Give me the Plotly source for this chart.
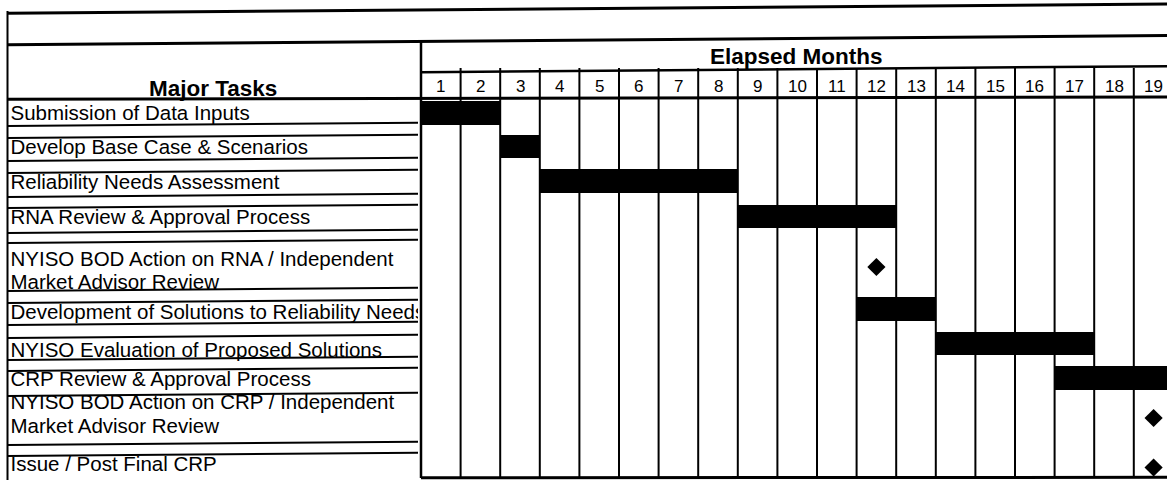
import plotly.graph_objects as go

# ---------------- data ----------------
tasks = [
    "Submission of Data Inputs",
    "Develop Base Case & Scenarios",
    "Reliability Needs Assessment",
    "RNA Review & Approval Process",
    "NYISO BOD Action on RNA / Independent<br>Market Advisor Review",
    "Development of Solutions to Reliability Needs",
    "NYISO Evaluation of Proposed Solutions",
    "CRP Review & Approval Process",
    "NYISO BOD Action on CRP / Independent<br>Market Advisor Review",
    "Issue / Post Final CRP",
]
start_month = [1, 3, 4, 9, None, 12, 14, 17, None, None]
end_month = [2, 3, 8, 12, None, 13, 17, 19, None, None]
milestone_month = [None, None, None, None, 12, None, None, None, 19, 19]
months = list(range(1, 20))
header_tasks = "Major Tasks"
header_months = "Elapsed Months"

# ---------------- layout (pixel geometry of the sheet) ----------------
W, H = 1167, 480
COL_LEFT = 421.0      # left edge of month 1
COL_W = 39.6          # width of one month column
LEFT_EDGE = 7.5
LABEL_CLIP = 418.0
SKEW = 0.008          # slight tilt of the scanned sheet
bar_y = [113, 146.5, 181, 216.5, 267, 309, 343.5, 378, 418, 467.5]
bar_h = 23.5
label_line_y = [[115], [148.5], [183.5], [218.5], [260.5, 283.5], [313.5],
                [352], [380.5], [404, 427.5], [466]]
box_lines = [123, 135, 158, 170, 194, 205, 230, 240, 288, 300, 322, 335,
             357, 368, 393, 442, 453]
FONT = "Liberation Sans, Arial, sans-serif"

x_lo = 0.5 - COL_LEFT / COL_W
x_hi = 0.5 + (W - COL_LEFT) / COL_W

fig = go.Figure()

# task bars
bx, bb, by = [], [], []
for s, e, y in zip(start_month, end_month, bar_y):
    if s is None:
        continue
    bb.append(s - 0.5)
    bx.append(e - s + 1)
    by.append(y)
fig.add_trace(go.Bar(
    x=bx, base=bb, y=by, orientation="h", width=bar_h,
    marker=dict(color="black", line=dict(width=0)),
    hoverinfo="skip",
))

# milestones
mx, my = [], []
for m, y in zip(milestone_month, bar_y):
    if m is None:
        continue
    mx.append(m)
    my.append(y)
fig.add_trace(go.Scatter(
    x=mx, y=my, mode="markers",
    marker=dict(symbol="diamond", size=14, color="black"),
    hoverinfo="skip", cliponaxis=True,
))

# task labels (clipped to the label column)
tx, ty, tt = [], [], []
for label, ys in zip(tasks, label_line_y):
    for line, y in zip(label.split("<br>"), ys):
        tx.append(10.5)
        ty.append(y)
        tt.append(line)
fig.add_trace(go.Scatter(
    x=tx, y=ty, text=tt, mode="text", textposition="middle right",
    textfont=dict(family=FONT, size=20.5, color="black"),
    xaxis="x2", yaxis="y", cliponaxis=True, hoverinfo="skip",
))

shapes = []
def tline(y_ref, x_ref, px0, px1, w=2):
    """Horizontal sheet line (slightly tilted like the scan), pixel x."""
    y0 = y_ref - SKEW * (px0 - x_ref)
    y1 = y_ref - SKEW * (px1 - x_ref)
    shapes.append(dict(type="line", xref="paper", yref="y", x0=px0 / W, x1=px1 / W,
                       y0=y0, y1=y1, line=dict(color="black", width=w),
                       layer="above"))

def vline(x, y0, y1, w=2, ref="paper"):
    shapes.append(dict(type="line", xref=ref, yref="y", x0=x, x1=x,
                       y0=y0, y1=y1, line=dict(color="black", width=w),
                       layer="above"))

# outer frame / headers
tline(11.7, 200, LEFT_EDGE, W, 3)
tline(41.7, 400, LEFT_EDGE, W, 3)
tline(70.7, 600, COL_LEFT, W, 2.5)
shapes.append(dict(type="line", xref="paper", yref="y", x0=LEFT_EDGE / W, x1=1,
                   y0=99.3, y1=97, line=dict(color="black", width=3), layer="above"))
shapes.append(dict(type="line", xref="paper", yref="y", x0=COL_LEFT / W, x1=1,
                   y0=477.8, y1=477.3, line=dict(color="black", width=3), layer="above"))
vline(LEFT_EDGE / W, 11, 480, 2)
vline(COL_LEFT / W, 41, 478, 2.5)
# label boxes in the left column
for y in box_lines:
    tline(y, 390, LEFT_EDGE, LABEL_CLIP, 2)
# month column dividers
for m in months[:-1]:
    vline(m + 0.5, 68, 478, 2, ref="x")

fig.update_layout(shapes=shapes)

# month numbers
ann = []
for m in months:
    ann.append(dict(x=m, y=86, xref="x", yref="y", text=str(m),
                    xanchor="center", yanchor="middle",
                    showarrow=False, font=dict(family=FONT, size=17, color="black")))
ann.append(dict(x=796 / W, y=56, xref="paper", yref="y", text="<b>" + header_months + "</b>",
                xanchor="center", yanchor="middle",
                showarrow=False, font=dict(family=FONT, size=22.5, color="black")))
ann.append(dict(x=212.5 / W, y=88, xref="paper", yref="y", text="<b>" + header_tasks + "</b>",
                xanchor="center", yanchor="middle",
                showarrow=False, font=dict(family=FONT, size=22.5, color="black")))
fig.update_layout(annotations=ann)

fig.update_layout(
    width=W, height=H,
    margin=dict(l=0, r=0, t=0, b=0, pad=0),
    paper_bgcolor="white", plot_bgcolor="white",
    showlegend=False, bargap=0,
    xaxis=dict(range=[x_lo, x_hi], domain=[0, 1], visible=False, fixedrange=True),
    xaxis2=dict(range=[0, LABEL_CLIP], domain=[0, LABEL_CLIP / W], visible=False,
                anchor="y", fixedrange=True),
    yaxis=dict(range=[H, 0], domain=[0, 1], visible=False, fixedrange=True),
)

fig.write_html(
    "out.html",
    config={"displayModeBar": False, "responsive": False},
    post_script="document.body.style.margin='0';document.body.style.overflow='hidden';",
)
